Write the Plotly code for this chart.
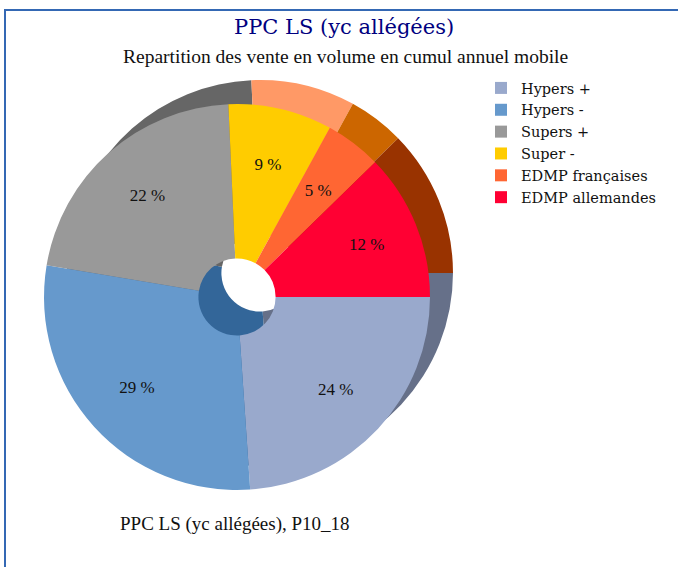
import plotly.graph_objects as go

W, H = 678, 567

# ---- data ----
categories = ["Hypers +", "Hypers -", "Supers +", "Super -", "EDMP françaises", "EDMP allemandes"]
values = [23.9, 28.7, 21.65, 8.7, 4.7, 12.3]
front_colors = ["#99A9CC", "#6699CC", "#999999", "#FFCC00", "#FF6633", "#FF0033"]
back_colors = ["#667089", "#336699", "#666666", "#FF9966", "#CC6600", "#993300"]

title_text = "PPC LS (yc allégées)"
subtitle_text = "Repartition des vente en volume en cumul annuel mobile"
footer_text = "PPC LS (yc allégées), P10_18"

# ---- layout geometry (screen pixels) ----
R = 193
front_c = (237, 297)
back_c = (260, 273)
# label rings: (radius of the transparent label pie, indices of slices labelled on it)
label_rings = [(193, [0, 1, 2, 5]), (173, [3]), (154, [4])]


def px(x):
    return x / W


def py(y):
    return 1 - y / H


def dom(c, r=R):
    cx, cy = c
    return dict(x=[px(cx - r), px(cx + r)], y=[py(cy + r), py(cy - r)])


fig = go.Figure()
# shadow (back) layer
fig.add_trace(go.Pie(
    labels=categories, values=values, sort=False, direction="clockwise",
    rotation=90, hole=0.2, domain=dom(back_c),
    marker=dict(colors=back_colors, line=dict(width=0)),
    textinfo="none", hoverinfo="skip", showlegend=False,
))
# front layer
fig.add_trace(go.Pie(
    labels=categories, values=values, sort=False, direction="clockwise",
    rotation=90, hole=0.2, domain=dom(front_c),
    marker=dict(colors=front_colors, line=dict(width=0)),
    textinfo="none", showlegend=True,
))
# transparent label layers
for r, idx in label_rings:
    fig.add_trace(go.Pie(
        labels=categories, values=values, sort=False, direction="clockwise",
        rotation=90, hole=0.4, domain=dom(front_c, r),
        marker=dict(colors=["rgba(0,0,0,0)"] * len(values), line=dict(width=0)),
        texttemplate=["%{value:.0f} %" if i in idx else "" for i in range(len(values))],
        textposition="inside",
        insidetextorientation="horizontal",
        textfont=dict(family="Liberation Serif", size=17, color="#111111"),
        hoverinfo="skip", showlegend=False,
    ))

fig.update_layout(
    width=W, height=H,
    margin=dict(l=0, r=0, t=0, b=0),
    paper_bgcolor="white", plot_bgcolor="white",
    uniformtext=dict(mode="show", minsize=17),
    legend=dict(
        x=px(481), y=py(72), xanchor="left", yanchor="top",
        font=dict(family="DejaVu Serif", size=14.5, color="#111111"),
        bgcolor="rgba(0,0,0,0)", borderwidth=0,
        traceorder="normal",
    ),
    annotations=[
        dict(text=title_text, x=px(344), y=py(27), xref="paper", yref="paper",
             showarrow=False, xanchor="center", yanchor="middle",
             font=dict(family="DejaVu Serif", size=21, color="#000080")),
        dict(text=subtitle_text, x=px(345), y=py(56), xref="paper", yref="paper",
             showarrow=False, xanchor="center", yanchor="middle",
             font=dict(family="Liberation Serif", size=19.5, color="#111111")),
        dict(text=footer_text, x=px(118), y=py(524), xref="paper", yref="paper",
             showarrow=False, xanchor="left", yanchor="middle",
             font=dict(family="Liberation Serif", size=19, color="#111111")),
    ],
    shapes=[
        dict(type="rect", xref="paper", yref="paper",
             x0=px(5), x1=px(700), y0=py(600), y1=py(10),
             line=dict(color="#3468B4", width=2), fillcolor="rgba(0,0,0,0)",
             layer="above"),
    ],
)

fig.write_html(
    "out.html",
    config={"displayModeBar": False},
    post_script="document.body.style.margin='0px';document.body.style.padding='0px';",
)
